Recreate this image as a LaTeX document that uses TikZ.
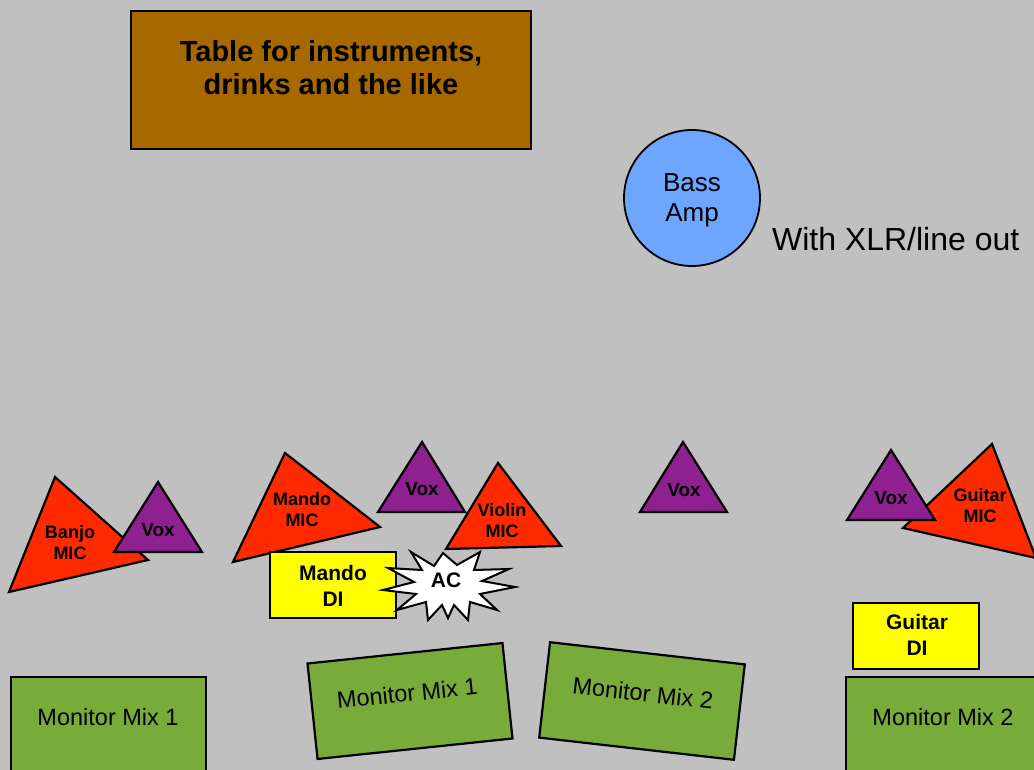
\documentclass[tikz,border=0pt]{standalone}
\usepackage{fontspec}
\setmainfont{Liberation Sans}

\definecolor{stagegray}{RGB}{192,192,192}
\definecolor{tablebrown}{RGB}{168,104,0}
\definecolor{ampblue}{RGB}{110,166,255}
\definecolor{micred}{RGB}{255,42,0}
\definecolor{voxpurple}{RGB}{143,32,143}
\definecolor{diyellow}{RGB}{255,255,0}
\definecolor{monitorgreen}{RGB}{120,171,58}

\begin{document}
\begin{tikzpicture}[x=1pt, y=-1pt, line width=2.2pt,
    mic/.style={fill=micred, draw=black},
    vox/.style={fill=voxpurple, draw=black},
    dibox/.style={fill=diyellow, draw=black},
    monitor/.style={fill=monitorgreen, draw=black},
    miclabel/.style={font=\bfseries\fontsize{18}{21}\selectfont, align=center, inner sep=0pt},
    voxlabel/.style={font=\bfseries\fontsize{19}{22}\selectfont, anchor=base, inner sep=0pt},
    dilabel/.style={font=\bfseries\fontsize{21}{26}\selectfont, align=center, inner sep=0pt},
    monlabel/.style={font=\fontsize{23.5}{27}\selectfont, anchor=base, inner sep=0pt}]

    % 背景の描画
    \useasboundingbox (0,0) rectangle (1034,770);
    \clip (0,0) rectangle (1034,770);
    \fill[stagegray] (0,0) rectangle (1034,770);

    % テーブルとベースアンプの描画
    \filldraw[fill=tablebrown, draw=black] (131,11) rectangle (531,149);
    \node[font=\bfseries\fontsize{29}{33}\selectfont, align=center, inner sep=0pt]
    (table) at (331,68) {Table for instruments,\\drinks and the like};
    \filldraw[fill=ampblue, draw=black, line width=1.8pt] (692,198) circle (68);
    \node[font=\fontsize{26}{30}\selectfont, align=center, inner sep=0pt]
    (bassamp) at (692,200) {Bass\\Amp};
    \node[font=\fontsize{32}{36}\selectfont, anchor=base west, inner sep=0pt]
    (xlrnote) at (771,251) {With XLR/line out};

    % マイクとボーカルの描画
    \filldraw[mic] (55,477) -- (9,592) -- (148,560) -- cycle;
    \node[miclabel] (banjomic) at (70,543) {Banjo\\MIC};
    \filldraw[vox] (158,482) -- (114,552) -- (202,552) -- cycle;
    \node[voxlabel] (vox1) at (158,536) {Vox};

    \filldraw[mic] (285,453) -- (233,562) -- (380,527) -- cycle;
    \node[miclabel] (mandomic) at (302,510) {Mando\\MIC};
    \filldraw[dibox] (270,552) rectangle (396,618);
    \node[dilabel] (mandodi) at (333,586) {Mando\\DI};

    \filldraw[vox] (422,442) -- (378,512) -- (465,512) -- cycle;
    \node[voxlabel] (vox2) at (422,495) {Vox};
    \filldraw[mic] (498,463) -- (446,549) -- (561,546) -- cycle;
    \node[miclabel] (violinmic) at (502,521) {Violin\\MIC};

    % ACの描画
    \filldraw[fill=white, draw=black, line width=2pt, shift={(448,585)}]
    (-37,-33) -- (-14,-19) -- (-5,-32) -- (9,-20) -- (32,-33) -- (26,-15)
    -- (61,-16) -- (34,-4) -- (67,2) -- (32,9) -- (49,25) -- (22,17)
    -- (20,35) -- (6,20) -- (0,33) -- (-6,20) -- (-20,35) -- (-22,17)
    -- (-51,25) -- (-32,9) -- (-65,5) -- (-34,-3) -- (-60,-17) -- (-26,-15) -- cycle;
    \node[font=\bfseries\fontsize{21}{24}\selectfont, anchor=base, inner sep=0pt]
    (ac) at (446,587) {AC};

    \filldraw[vox] (683,442) -- (640,512) -- (727,512) -- cycle;
    \node[voxlabel] (vox3) at (684,496) {Vox};

    \filldraw[mic] (992,444) -- (903,528) -- (1036,558) -- cycle;
    \node[miclabel] (guitarmic) at (980,506) {Guitar\\MIC};
    \filldraw[vox] (891,450) -- (847,520) -- (935,520) -- cycle;
    \node[voxlabel] (vox4) at (891,504) {Vox};

    \filldraw[dibox] (853,603) rectangle (979,669);
    \node[dilabel] (guitardi) at (917,635) {Guitar\\DI};

    % モニターの描画
    \filldraw[monitor] (11,677) rectangle (206,775);
    \node[monlabel] (mon1left) at (108,725) {Monitor Mix 1};
    \filldraw[monitor] (846,677) rectangle (1041,775);
    \node[monlabel] (mon2right) at (943,725) {Monitor Mix 2};

    \begin{scope}[shift={(410,701)}, rotate=6]
        \filldraw[monitor] (-98,-48) rectangle (98,48);
        \node[monlabel, anchor=center, transform shape] (mon1mid) at (-2,-8) {Monitor Mix 1};
    \end{scope}
    \begin{scope}[shift={(642,701)}, rotate=-6.5]
        \filldraw[monitor] (-98,-48) rectangle (98,48);
        \node[monlabel, anchor=center, transform shape] (mon2mid) at (0,-8) {Monitor Mix 2};
    \end{scope}

\end{tikzpicture}
\end{document}
